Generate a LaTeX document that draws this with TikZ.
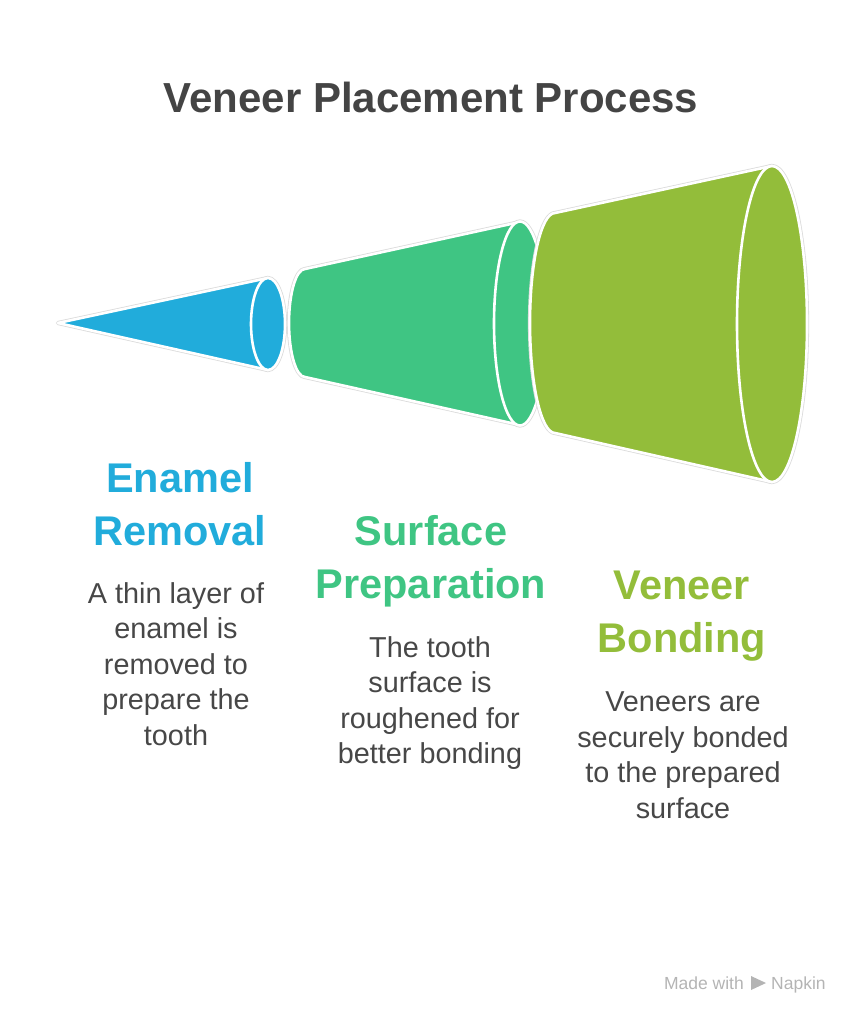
\documentclass[tikz,border=0pt]{standalone}
\usepackage{fontspec}
\setmainfont{Liberation Sans}
\usepackage{xcolor}
\definecolor{enamelblue}{HTML}{21ACDB}
\definecolor{surfacegreen}{HTML}{3FC583}
\definecolor{bondlime}{HTML}{93BD3A}
\definecolor{titlegray}{HTML}{444444}
\definecolor{notegray}{HTML}{474747}
\definecolor{markgray}{HTML}{B4B4B4}
\tikzset{
  segedge/.style={draw=black!14, line width=4.2pt, line join=round},
  segbody/.style={fill=#1, draw=white, line width=2.6pt, line join=round},
  steptitle/.style={font=\bfseries\fontsize{41.5}{53}\selectfont, text=#1, align=center, anchor=base, inner sep=0pt},
  stepnote/.style={font=\fontsize{28.8}{35.5}\selectfont, text=notegray, align=center, anchor=base, inner sep=0pt},
}

\begin{document}
\begin{tikzpicture}[x=1pt,y=-1pt]
\useasboundingbox (0,0) rectangle (862,1024);
% enamel cone
\draw[segedge] (58,323) -- (268,278) -- (268,370) -- cycle;
\draw[segedge] (268,324) ellipse [x radius=17, y radius=46];
\draw[segbody=enamelblue] (58,323) -- (268,278) -- (268,370) -- cycle;
\draw[segbody=enamelblue] (268,324) ellipse [x radius=17, y radius=46];
% surface frustum
\draw[segedge] (305,269) arc [start angle=270, end angle=90, x radius=16, y radius=54] -- (520,425) -- (520,222) -- cycle;
\draw[segedge] (520,323.5) ellipse [x radius=26, y radius=102];
\draw[segbody=surfacegreen] (305,269) arc [start angle=270, end angle=90, x radius=16, y radius=54] -- (520,425) -- (520,222) -- cycle;
\draw[segbody=surfacegreen] (520,323.5) ellipse [x radius=26, y radius=102];
% bonding frustum
\draw[segedge] (555,213) arc [start angle=270, end angle=90, x radius=25, y radius=110] -- (772,482) -- (772,166) -- cycle;
\draw[segedge] (772,324) ellipse [x radius=35, y radius=158];
\draw[segbody=bondlime] (555,213) arc [start angle=270, end angle=90, x radius=25, y radius=110] -- (772,482) -- (772,166) -- cycle;
\draw[segbody=bondlime] (772,324) ellipse [x radius=35, y radius=158];

\draw node (title) [anchor=base, inner sep=0pt, text=titlegray, font=\bfseries\fontsize{42}{50}\selectfont] at (431,113) {Veneer Placement Process};

% anchors sit on the last baseline of each block
\draw node (enamelhead) [steptitle=enamelblue] at (180,545) {Enamel\\Removal};
\draw node (enamelnote) [stepnote] at (176,745) {A thin layer of\\enamel is\\removed to\\prepare the\\tooth};
\draw node (surfacehead) [steptitle=surfacegreen] at (431,598) {Surface\\Preparation};
\draw node (surfacenote) [stepnote] at (430,763.5) {The tooth\\surface is\\roughened for\\better bonding};
\draw node (bondhead) [steptitle=bondlime] at (682,652) {Veneer\\Bonding};
\draw node (bondnote) [stepnote] at (683,818) {Veneers are\\securely bonded\\to the prepared\\surface};

\draw node (madewith) [anchor=base east, inner sep=0pt, text=markgray, font=\fontsize{17.5}{20}\selectfont] at (744,989) {Made with};
\fill[markgray] (751,976) -- (766,983) -- (751,990) -- cycle;
\draw node (napkin) [anchor=base west, inner sep=0pt, text=markgray, font=\fontsize{17.5}{20}\selectfont] at (771,989) {Napkin};
\end{tikzpicture}
\end{document}
